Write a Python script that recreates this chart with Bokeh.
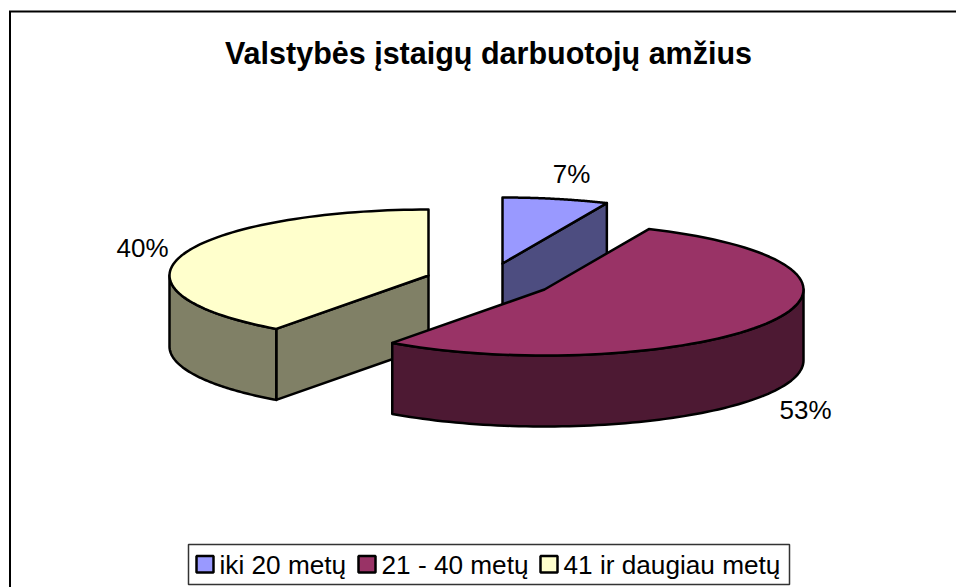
import numpy as np
from bokeh.embed import file_html
from bokeh.resources import INLINE
from bokeh.plotting import figure
from bokeh.models import Range1d
from bokeh.core.properties import value

title = "Valstybės įstaigų darbuotojų amžius"
categories = ["iki 20 metų", "21 - 40 metų", "41 ir daugiau metų"]
shares = [6.6, 53.4, 40.0]
top_colors = ["#9999FF", "#993366", "#FFFFCC"]
side_colors = ["#4D4D80", "#4D1933", "#808066"]

# layout (page pixels)
RX, RY, DEPTH = 259, 66, 71
centers = [(502, 263), (544, 289), (428, 275)]
label_pos = [(571, 173), (805, 409), (142, 247)]
legend_swatch_x = [196, 358, 540]
legend_text_x = [219, 381, 563]
FONT = "Liberation Sans"

p = figure(width=956, height=587, output_backend="svg", toolbar_location=None,
           x_range=Range1d(0, 956), y_range=Range1d(587, 0),
           min_border=0, outline_line_color=None, background_fill_color="white")
p.axis.visible = False
p.grid.visible = False
p.line([9.5, 9.5, 956], [587, 11, 11], line_color="black", line_width=2, line_join="miter")

edges = np.cumsum([0] + shares) / sum(shares) * 2 * np.pi

def pt(c, t, dy=0):
    return c[0] + RX * np.sin(t), c[1] - RY * np.cos(t) + dy

def arc(c, a, b, dy=0):
    t = np.linspace(a, b, 80)
    x, y = pt(c, t, dy)
    return list(x), list(y)

def poly(xs, ys, col):
    p.patch(xs, ys, fill_color=col, line_color="black", line_width=2.5, line_join="round")

def draw(i):
    c = centers[i]
    a, b = edges[i], edges[i + 1]
    side = side_colors[i]
    if i == 0:      # radial cut face at the end angle
        ex, ey = pt(c, b)
        poly([c[0], ex, ex, c[0]], [c[1], ey, ey + DEPTH, c[1] + DEPTH], side)
    if i == 2:      # radial cut face at the start angle, then the outer wall
        ex, ey = pt(c, a)
        poly([c[0], ex, ex, c[0]], [c[1], ey, ey + DEPTH, c[1] + DEPTH], side)
    lo, hi = max(a, np.pi / 2), min(b, 3 * np.pi / 2)
    if lo < hi:
        x1, y1 = arc(c, lo, hi)
        x2, y2 = arc(c, hi, lo, DEPTH)
        poly(x1 + x2, y1 + y2, side)
    x, y = arc(c, a, b)
    poly([c[0]] + x, [c[1]] + y, top_colors[i])

for i in [0, 2, 1]:
    draw(i)

p.text([488], [52], text=[title], text_font=value(FONT), text_font_style="bold",
       text_font_size="30.5px", text_align="center", text_baseline="middle", text_color="black")

labels = [f"{round(s / sum(shares) * 100)}%" for s in shares]
p.text([q[0] for q in label_pos], [q[1] for q in label_pos], text=labels,
       text_font=value(FONT), text_font_size="26px", text_align="center",
       text_baseline="middle", text_color="black")

# legend
p.quad(left=[188], right=[789], top=[544], bottom=[584], fill_color="white",
       line_color="#333333", line_width=1.5)
p.quad(left=legend_swatch_x, right=[v + 17 for v in legend_swatch_x],
       top=[555.5] * 3, bottom=[572] * 3, fill_color=top_colors, line_color="black", line_width=2.5)
p.text(legend_text_x, [564.5] * 3, text=categories, text_font=value(FONT),
       text_font_size="26.2px", text_align="left", text_baseline="middle", text_color="black")

open("out.html", "w").write(file_html(p, INLINE))
